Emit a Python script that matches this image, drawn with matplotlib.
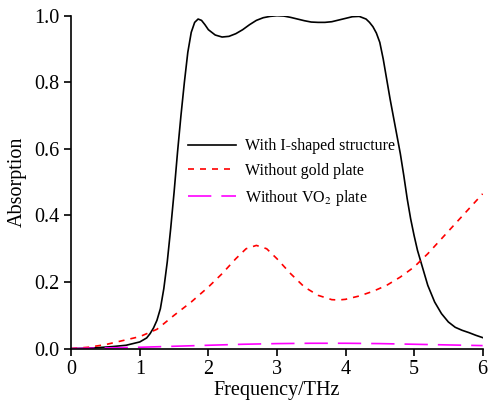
import matplotlib
matplotlib.use("Agg")
import matplotlib.pyplot as plt

plt.rcParams['font.family'] = ['Liberation Serif', 'DejaVu Serif']
plt.rcParams['mathtext.fontset'] = 'stix'

# With I-shaped structure
f_full = [0, 0.2, 0.4, 0.6, 0.8, 1.0, 1.1, 1.15, 1.2, 1.25, 1.3, 1.35, 1.4, 1.45,
          1.5, 1.55, 1.6, 1.65, 1.7, 1.75, 1.8, 1.85, 1.9, 1.95, 2.0, 2.1, 2.2,
          2.3, 2.4, 2.5, 2.6, 2.7, 2.8, 2.9, 3.0, 3.1, 3.2, 3.3, 3.4, 3.5, 3.6,
          3.7, 3.8, 3.9, 4.0, 4.1, 4.2, 4.3, 4.35, 4.4, 4.45, 4.5, 4.55, 4.6,
          4.65, 4.7, 4.75, 4.8, 4.85, 4.9, 4.95, 5.0, 5.05, 5.1, 5.2, 5.3, 5.4,
          5.5, 5.6, 5.7, 5.8, 5.9, 6.0]
a_full = [0, 0.001, 0.003, 0.006, 0.01, 0.02, 0.032, 0.045, 0.062, 0.085, 0.12,
          0.18, 0.26, 0.36, 0.47, 0.59, 0.7, 0.8, 0.89, 0.95, 0.98, 0.99,
          0.986, 0.973, 0.958, 0.942, 0.936, 0.938, 0.946, 0.958, 0.973, 0.986,
          0.994, 0.998, 1.0, 0.999, 0.995, 0.99, 0.985, 0.981, 0.98, 0.98,
          0.982, 0.987, 0.992, 0.997, 0.998, 0.99, 0.98, 0.967, 0.948, 0.92,
          0.87, 0.81, 0.75, 0.695, 0.64, 0.585, 0.52, 0.45, 0.39, 0.34, 0.295,
          0.26, 0.19, 0.14, 0.105, 0.08, 0.064, 0.055, 0.048, 0.04, 0.033]

# Without gold plate
f_gold = [0, 0.25, 0.5, 0.75, 1.0, 1.25, 1.5, 1.75, 2.0, 2.2, 2.4, 2.55, 2.7,
          2.85, 3.0, 3.2, 3.4, 3.6, 3.8, 3.9, 4.0, 4.2, 4.4, 4.6, 4.8, 5.0, 5.2,
          5.4, 5.6, 5.8, 6.0]
a_gold = [0, 0.004, 0.012, 0.024, 0.036, 0.058, 0.1, 0.14, 0.185, 0.225, 0.27,
          0.3, 0.31, 0.3, 0.27, 0.225, 0.185, 0.16, 0.147, 0.146, 0.148, 0.158,
          0.172, 0.19, 0.215, 0.245, 0.285, 0.33, 0.375, 0.42, 0.465]

# Without VO2 plate
f_vo2 = [0, 0.5, 1, 1.5, 2, 2.5, 3, 3.5, 4, 4.5, 5, 5.5, 6]
a_vo2 = [0, 0.002, 0.004, 0.007, 0.01, 0.013, 0.015, 0.016, 0.016, 0.015,
         0.013, 0.011, 0.009]

fig = plt.figure(figsize=(4.88, 4.03), dpi=100)
ax = fig.add_axes([0.146, 0.135, 0.843, 0.826])

ax.plot(f_full, a_full, color='black', lw=1.2, label='With I-shaped structure')
ax.plot(f_gold, a_gold, color='red', lw=1.2, dashes=(3.6, 3.6),
        label='Without gold plate')
ax.plot(f_vo2, a_vo2, color='magenta', lw=1.2, dashes=(14, 6),
        label='Without VO$_2$ plate')

ax.set_xlim(0, 6)
ax.set_ylim(0, 1.0)
ax.set_xticks(range(0, 7))
ax.set_yticks([0, 0.2, 0.4, 0.6, 0.8, 1.0])
ax.set_yticklabels(['0.0', '0.2', '0.4', '0.6', '0.8', '1.0'])
ax.spines['top'].set_visible(False)
ax.spines['right'].set_visible(False)
ax.spines['left'].set_linewidth(1.2)
ax.spines['bottom'].set_linewidth(1.2)
ax.tick_params(direction='out', length=5, width=1.2, labelsize=14.5)
ax.set_xlabel('Frequency/THz', fontsize=14.5, labelpad=1)
ax.set_ylabel('Absorption', fontsize=14.5, labelpad=5)

ax.legend(loc='upper left', bbox_to_anchor=(0.284, 0.632), frameon=False,
          fontsize=11.5, handlelength=3.0, handletextpad=0.55,
          labelspacing=0.55, borderpad=0, borderaxespad=0)

fig.savefig('out.png', dpi=100)
